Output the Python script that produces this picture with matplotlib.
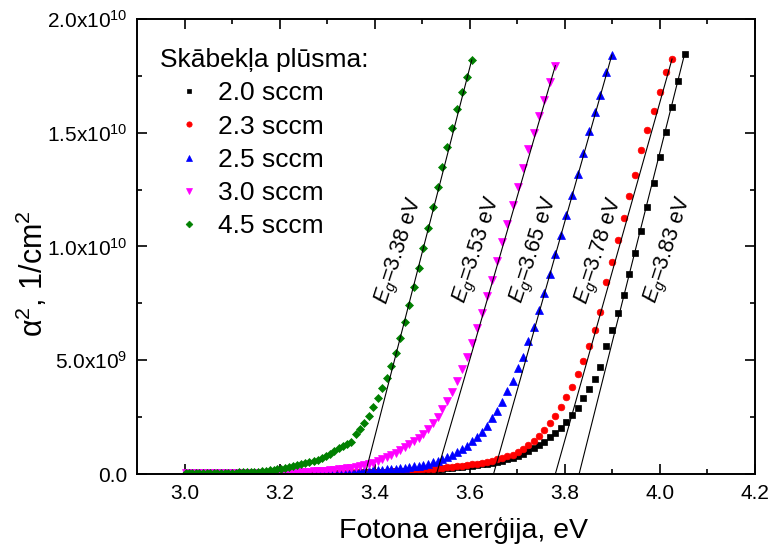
import numpy as np
import matplotlib
matplotlib.use("Agg")
import matplotlib.pyplot as plt
from matplotlib.ticker import MultipleLocator, FixedLocator, FixedFormatter

plt.rcParams['font.family'] = ['Liberation Sans', 'DejaVu Sans']
plt.rcParams['mathtext.fontset'] = 'custom'
plt.rcParams['mathtext.rm'] = 'Liberation Sans'
plt.rcParams['mathtext.it'] = 'Liberation Sans:italic'
plt.rcParams['mathtext.default'] = 'regular'

# Spectra were recorded in 1 nm steps, 413 nm down to 306 nm
wavelength_nm = np.arange(413, 305, -1)
photon_energy_ev = 1239.84 / wavelength_nm

flow_labels = ['2.0 sccm', '2.3 sccm', '2.5 sccm', '3.0 sccm', '4.5 sccm']
gap_ev = [3.83, 3.78, 3.65, 3.53, 3.38]
# slopes of the linear fits, 1e9 cm^-2 per eV
fit_slope = [83.2, 74.3, 74.0, 71.8, 81.2]

# alpha^2 in units of 1e9 cm^-2, ordered by increasing photon energy
alpha_sq_2_0 = [
    0.02, 0.02, 0.02, 0.02, 0.025, 0.025, 0.025, 0.025, 0.025, 0.025,
    0.03, 0.03, 0.03, 0.03, 0.03, 0.03, 0.03, 0.03, 0.035, 0.035,
    0.035, 0.035, 0.035, 0.035, 0.035, 0.035, 0.04, 0.04, 0.04, 0.04,
    0.04, 0.04, 0.04,
    0.04, 0.041, 0.042, 0.044, 0.045, 0.046, 0.048, 0.05, 0.053, 0.055,
    0.058, 0.06, 0.065, 0.07, 0.075, 0.08, 0.085, 0.09, 0.095, 0.10,
    0.11, 0.12, 0.13, 0.14, 0.15, 0.16, 0.17, 0.19, 0.20, 0.22,
    0.23, 0.25, 0.27, 0.29, 0.31, 0.34, 0.36, 0.39, 0.42, 0.45,
    0.49, 0.53, 0.58, 0.64, 0.71, 0.79, 0.88, 1.00, 1.13, 1.27,
    1.42, 1.61, 1.82, 2.04, 2.30, 2.59, 2.91, 3.33, 3.72, 4.16,
    4.69, 5.64, 6.33, 7.06, 7.87, 8.78, 9.70, 10.68, 11.75, 12.80,
    13.93, 15.05, 16.15, 17.29, 18.46,
]
alpha_sq_2_3 = [
    0.02, 0.02, 0.02, 0.02, 0.025, 0.025, 0.025, 0.025, 0.025, 0.025,
    0.03, 0.03, 0.03, 0.03, 0.03, 0.03, 0.03, 0.03, 0.035, 0.035,
    0.035, 0.035, 0.035, 0.035, 0.035, 0.035, 0.04, 0.04, 0.04, 0.04,
    0.04, 0.04, 0.04,
    0.042, 0.044, 0.046, 0.048, 0.05, 0.052, 0.055, 0.058, 0.061, 0.064,
    0.067, 0.07, 0.075, 0.08, 0.085, 0.09, 0.095, 0.10, 0.105, 0.11,
    0.12, 0.13, 0.14, 0.155, 0.17, 0.185, 0.20, 0.21, 0.23, 0.25,
    0.27, 0.29, 0.31, 0.33, 0.36, 0.39, 0.42, 0.45, 0.49, 0.53,
    0.58, 0.64, 0.70, 0.77, 0.85, 0.95, 1.10, 1.26, 1.45, 1.67,
    1.93, 2.23, 2.55, 2.93, 3.37, 3.84, 4.38, 4.97, 5.63, 6.33,
    7.13, 8.45, 9.33, 10.29, 11.27, 12.20, 13.16, 14.23, 15.11, 15.97,
    16.78, 17.66, 18.24,
]
alpha_sq_2_5 = [
    0.025, 0.025, 0.025, 0.025, 0.03, 0.03, 0.03, 0.03, 0.03, 0.03,
    0.035, 0.035, 0.035, 0.035, 0.035, 0.035, 0.04, 0.04, 0.04, 0.04,
    0.04, 0.04, 0.04, 0.04, 0.04, 0.04, 0.04, 0.045, 0.045, 0.05,
    0.05, 0.055, 0.055,
    0.06, 0.06, 0.065, 0.07, 0.075, 0.08, 0.085, 0.09, 0.095, 0.10,
    0.11, 0.12, 0.13, 0.14, 0.15, 0.16, 0.17, 0.185, 0.20, 0.22,
    0.24, 0.26, 0.28, 0.31, 0.34, 0.37, 0.41, 0.46, 0.51, 0.57,
    0.65, 0.74, 0.84, 0.95, 1.09, 1.23, 1.43, 1.64, 1.86, 2.12,
    2.45, 2.78, 3.18, 3.65, 4.09, 4.65, 5.16, 5.85, 6.47, 7.19,
    7.96, 8.77, 9.65, 10.50, 11.40, 12.26, 13.19, 14.12, 15.09, 15.93,
    16.66, 17.68, 18.42,
]
alpha_sq_3_0 = [
    0.025, 0.025, 0.025, 0.03, 0.03, 0.03, 0.03, 0.03, 0.035, 0.035,
    0.035, 0.035, 0.04, 0.04, 0.04, 0.04, 0.04, 0.04, 0.045, 0.045,
    0.05, 0.05, 0.055, 0.055, 0.06, 0.06, 0.065, 0.07, 0.075, 0.08,
    0.085, 0.09, 0.095,
    0.10, 0.11, 0.12, 0.13, 0.145, 0.16, 0.18, 0.20, 0.22, 0.25,
    0.28, 0.31, 0.35, 0.39, 0.44, 0.50, 0.57, 0.65, 0.74, 0.84,
    0.94, 1.05, 1.18, 1.32, 1.46, 1.60, 1.77, 1.98, 2.23, 2.52,
    2.84, 3.21, 3.62, 4.09, 4.62, 5.13, 5.74, 6.40, 7.08, 7.83,
    8.53, 9.35, 10.21, 10.98, 11.82, 12.63, 13.44, 14.29, 14.98, 15.75,
    16.44, 17.22, 17.95,
]
alpha_sq_4_5 = [
    0.03, 0.03, 0.03, 0.035, 0.035, 0.04, 0.04, 0.04, 0.045, 0.045,
    0.05, 0.05, 0.055, 0.06, 0.065, 0.07, 0.075, 0.08, 0.085, 0.09,
    0.10, 0.115, 0.135, 0.155, 0.18, 0.21, 0.24, 0.28, 0.32, 0.355,
    0.39, 0.43, 0.475,
    0.52, 0.575, 0.635, 0.70, 0.79, 0.89, 1.01, 1.14, 1.23, 1.33,
    1.42, 1.77, 2.0, 2.25, 2.55, 2.93, 3.35, 3.76, 4.23, 4.75,
    5.34, 6.0, 6.68, 7.43, 8.23, 9.04, 9.92, 10.80, 11.75, 12.63,
    13.51, 14.39, 15.22, 16.03, 16.78, 17.46, 18.20,
]

series = [alpha_sq_2_0, alpha_sq_2_3, alpha_sq_2_5, alpha_sq_3_0, alpha_sq_4_5]
colors = ['#000000', '#ff0000', '#0000ff', '#ff00ff', '#008000']
markers = ['s', 'o', '^', 'v', 'D']
msizes = [4.3, 4.8, 5.2, 5.2, 4.3]

# label anchor points (eV, 1e9 cm^-2) for the band-gap notes
note_pos = [(4.019, 9.85), (3.875, 9.8), (3.737, 9.85), (3.618, 9.85), (3.454, 9.8)]

fig = plt.figure(figsize=(7.7, 5.48), dpi=100)
ax = fig.add_axes([137 / 770, 74 / 548, 618 / 770, 455 / 548])

for vals, lab, c, m, ms in zip(series, flow_labels, colors, markers, msizes):
    y = np.array(vals) * 1e9
    x = photon_energy_ev[:len(y)]
    ax.plot(x, y, ls='none', marker=m, ms=ms, color=c, mec=c, mew=0.5,
            label=lab, zorder=2)

# linear fits extrapolated to zero absorption
for vals, eg, k in zip(series, gap_ev, fit_slope):
    y_top = vals[-1]
    e_top = eg + y_top / k
    ax.plot([eg, e_top], [0, y_top * 1e9], color='black', lw=0.8, zorder=3)

for (ex, ey), eg in zip(note_pos, gap_ev):
    ax.text(ex, ey * 1e9, r'$\mathit{E}_\mathit{g}$=%.2f eV' % eg,
            rotation=72, rotation_mode='anchor', ha='center', va='center',
            fontsize=15.5)

ax.set_xlim(2.9, 4.2)
ax.set_ylim(0, 2.0e10)
ax.xaxis.set_major_locator(FixedLocator([3.0, 3.2, 3.4, 3.6, 3.8, 4.0, 4.2]))
ax.xaxis.set_minor_locator(FixedLocator([3.1, 3.3, 3.5, 3.7, 3.9, 4.1]))
ax.xaxis.set_major_formatter(FixedFormatter(['3.0', '3.2', '3.4', '3.6', '3.8', '4.0', '4.2']))
ax.yaxis.set_major_locator(FixedLocator([0, 5e9, 1e10, 1.5e10, 2e10]))
ax.yaxis.set_major_formatter(FixedFormatter(
    ['0.0', '5.0x10$^9$', '1.0x10$^{10}$', '1.5x10$^{10}$', '2.0x10$^{10}$']))
ax.yaxis.set_minor_locator(MultipleLocator(2.5e9))

ax.tick_params(which='both', direction='in', top=True, right=True, width=1.2)
ax.tick_params(which='major', length=7, labelsize=15, pad=7)
ax.tick_params(which='minor', length=3.5)
for sp in ax.spines.values():
    sp.set_linewidth(1.4)

ax.set_xlabel('Fotona enerģija, eV', fontsize=20.5, labelpad=8)
ax.xaxis.set_label_coords(0.528, -0.095)
ax.set_ylabel(r'$\alpha^2$, 1/cm$^2$', fontsize=22)
ax.yaxis.set_label_coords(-0.14, 0.44)

leg = ax.legend(title='Skābekļa plūsma:', loc='upper left',
                bbox_to_anchor=(0.037, 0.936), frameon=False, fontsize=19,
                title_fontsize=19, markerscale=0.8, handlelength=2.2,
                handletextpad=0.0, labelspacing=0.35, alignment='left',
                borderaxespad=0, borderpad=0)

fig.savefig('out.png', dpi=100)
